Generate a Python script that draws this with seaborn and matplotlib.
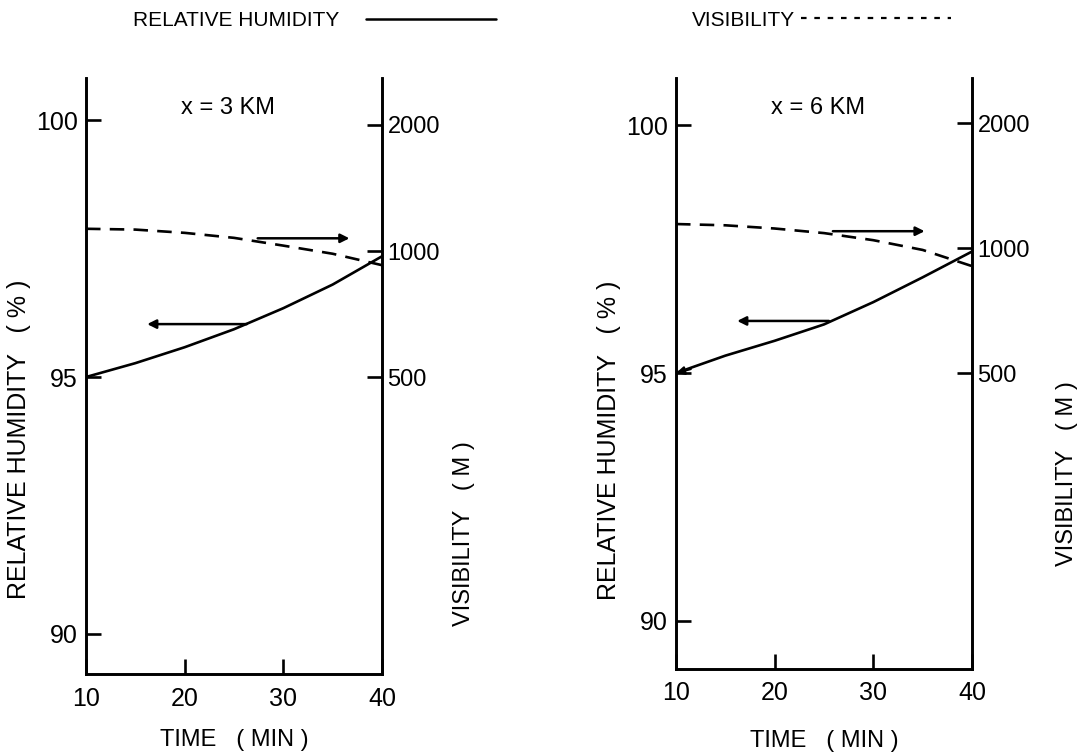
import matplotlib
matplotlib.use("Agg")
import matplotlib.pyplot as plt
from matplotlib.lines import Line2D
from matplotlib.ticker import FixedLocator, NullLocator, FixedFormatter
import seaborn as sns
import pandas as pd

# ---------------- data ----------------
time_min = [10, 15, 20, 25, 30, 35, 40]
rh_3km = [95.0, 95.27, 95.58, 95.93, 96.34, 96.80, 97.35]
vis_3km = [1130, 1125, 1105, 1075, 1030, 985, 925]
rh_6km = [95.0, 95.35, 95.65, 95.98, 96.43, 96.93, 97.45]
vis_6km = [1143, 1135, 1115, 1087, 1045, 990, 905]

panel_titles = ["x = 3 KM", "x = 6 KM"]
rh_ticks = [90, 95, 100]
vis_ticks = [500, 1000, 2000]
time_ticks = [10, 20, 30, 40]

# annotation arrows (time_tail, time_head, RH level)
arrows_3km = [(27.4, 36.7, 97.70), (26.3, 16.2, 96.03)]
arrows_6km = [(25.9, 35.2, 97.86), (25.5, 16.2, 96.05)]

# ---------------- style ----------------
sns.set_theme(style="white")
plt.rcParams["font.family"] = ["Liberation Sans", "DejaVu Sans"]
plt.rcParams["axes.linewidth"] = 1.9
for k in ("text.color", "axes.labelcolor", "xtick.color", "ytick.color"):
    plt.rcParams[k] = "black"
FS = 17

fig = plt.figure(figsize=(10.81, 7.55), dpi=100)
W, H = 1081, 755

def px_axes(x0, x1, ytop, ybot):
    return fig.add_axes([x0 / W, (H - ybot) / H, (x1 - x0) / W, (ybot - ytop) / H])

panels = [
    dict(ax=px_axes(86, 382, 78, 674), rh=rh_3km, vis=vis_3km, title=panel_titles[0],
         arrows=arrows_3km, rhlim=(89.22, 100.82), vislim=(97.6, 2590), head=False,
         lab_l=(-0.185, 0.393), lab_r=(1.241, 0.235), xpad=13),
    dict(ax=px_axes(676, 972, 78, 669), rh=rh_6km, vis=vis_6km, title=panel_titles[1],
         arrows=arrows_6km, rhlim=(89.03, 100.95), vislim=(96.8, 2570), head=True,
         lab_l=(-0.185, 0.387), lab_r=(1.283, 0.33), xpad=18),
]

for p in panels:
    ax = p["ax"]
    df = pd.DataFrame({"time": time_min, "rh": p["rh"], "vis": p["vis"]})
    sns.lineplot(data=df, x="time", y="rh", ax=ax, color="black", lw=1.9)
    ax.set_xlim(10, 40)
    ax.set_ylim(*p["rhlim"])
    ax2 = ax.twinx()
    sns.lineplot(data=df, x="time", y="vis", ax=ax2, color="black", lw=1.9,
                 linestyle=(0, (5.5, 3.5)))
    ax2.set_yscale("log")
    ax2.set_ylim(*p["vislim"])
    ax2.set_xlim(10, 40)

    for a in (ax, ax2):
        a.spines["top"].set_visible(False)
        for s in ("left", "right", "bottom"):
            a.spines[s].set_visible(True)
            a.spines[s].set_color("black")
            a.spines[s].set_linewidth(1.9)
        a.set_facecolor("none")

    ax.set_xticks(time_ticks)
    ax.set_xticklabels([str(t) for t in time_ticks])
    ax.set_yticks(rh_ticks)
    ax.set_yticklabels([str(v) for v in rh_ticks])
    ax2.yaxis.set_major_locator(FixedLocator(vis_ticks))
    ax2.yaxis.set_major_formatter(FixedFormatter([str(v) for v in vis_ticks]))
    ax2.yaxis.set_minor_locator(NullLocator())

    ax.tick_params(axis="both", direction="in", length=11, width=1.9, colors="black",
                   labelsize=18, pad=6, left=True, bottom=True)
    ax.tick_params(axis="x", pad=9)
    ax2.tick_params(axis="y", direction="in", length=11, width=1.9, colors="black",
                    labelsize=17, pad=4, right=True)

    ax.set_xlabel("TIME   ( MIN )", fontsize=FS, labelpad=p["xpad"])
    ax.set_ylabel("RELATIVE HUMIDITY   ( % )", fontsize=18)
    ax2.set_ylabel("VISIBILITY   ( M )", fontsize=FS)
    ax.yaxis.set_label_coords(*p["lab_l"])
    ax2.yaxis.set_label_coords(*p["lab_r"])

    ax.text(0.48, 0.95, p["title"], transform=ax.transAxes, ha="center", va="center",
            fontsize=FS)

    for t0, t1, lvl in p["arrows"]:
        ax.annotate("", xy=(t1, lvl), xytext=(t0, lvl),
                    arrowprops=dict(arrowstyle="-|>", lw=1.8, color="black",
                                    mutation_scale=13, shrinkA=0, shrinkB=0))
    if p["head"]:
        ax.annotate("", xy=(time_min[0], p["rh"][0]), xytext=(time_min[0] + 1.5, p["rh"][0] + 0.08),
                    arrowprops=dict(arrowstyle="-|>", lw=1.6, color="black",
                                    mutation_scale=12, shrinkA=0, shrinkB=0))

# ---------------- legend at top ----------------
h_rh = Line2D([], [], color="black", lw=1.8)
h_vis = Line2D([], [], color="black", lw=1.6, linestyle=(0, (2.5, 3.5)))
fig.legend([h_rh], ["RELATIVE HUMIDITY"], loc="center left", bbox_to_anchor=(133 / W, 1 - 21 / H),
           frameon=False, markerfirst=False, fontsize=15, handlelength=6.2,
           handletextpad=1.3, borderpad=0, borderaxespad=0)
fig.legend([h_vis], ["VISIBILITY"], loc="center left", bbox_to_anchor=(692 / W, 1 - 20 / H),
           frameon=False, markerfirst=False, fontsize=15, handlelength=7.2,
           handletextpad=0.3, borderpad=0, borderaxespad=0)

fig.savefig("out.png", dpi=100, facecolor="white")
